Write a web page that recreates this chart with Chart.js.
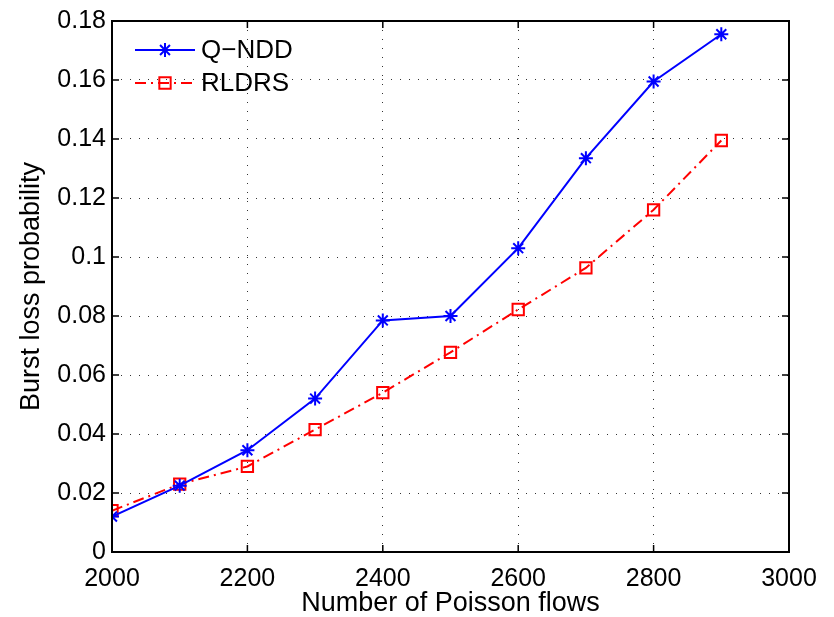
<!DOCTYPE html>
<html>
<head>
<meta charset="utf-8">
<script src="https://cdn.jsdelivr.net/npm/chart.js@4.4.0/dist/chart.umd.min.js"></script>
<style>
  html, body { margin: 0; padding: 0; background: #fff; }
  #wrap { width: 834px; height: 617px; }
</style>
</head>
<body>
<div id="wrap"><canvas id="myChart" width="834" height="617"></canvas></div>
<script>
// data
const flows = [2000, 2100, 2200, 2300, 2400, 2500, 2600, 2700, 2800, 2900];
const qndd = [0.012, 0.0225, 0.0345, 0.052, 0.0785, 0.080, 0.103, 0.1335, 0.1595, 0.1755];
const rldrs = [0.014, 0.023, 0.029, 0.0415, 0.054, 0.0677, 0.0822, 0.0963, 0.116, 0.1395];
const xTicks = [2000, 2200, 2400, 2600, 2800, 3000];
const yTicks = [0, 0.02, 0.04, 0.06, 0.08, 0.1, 0.12, 0.14, 0.16, 0.18];

const FONT = "'Liberation Sans', Arial, sans-serif";

function toPoints(vals) {
    return flows.map((f, i) => ({x: f, y: vals[i]}));
}

// frame, inward ticks and legend, matlab style
const matlabBox = {
    id: 'matlabBox',
    afterDraw(chart) {
        const {ctx, chartArea: a, scales} = chart;
        ctx.save();
        ctx.strokeStyle = '#000';
        ctx.lineWidth = 1.5;
        const len = 7;
        ctx.beginPath();
        xTicks.forEach(t => {
            const px = scales.x.getPixelForValue(t);
            ctx.moveTo(px, a.bottom); ctx.lineTo(px, a.bottom - len);
            ctx.moveTo(px, a.top); ctx.lineTo(px, a.top + len);
        });
        yTicks.forEach(t => {
            const py = scales.y.getPixelForValue(t);
            ctx.moveTo(a.left, py); ctx.lineTo(a.left + len, py);
            ctx.moveTo(a.right, py); ctx.lineTo(a.right - len, py);
        });
        ctx.stroke();
        ctx.lineWidth = 2;
        ctx.strokeRect(a.left, a.top, a.right - a.left, a.bottom - a.top);

        // legend
        const items = [
            {label: 'Q\u2212NDD', ds: chart.data.datasets[0]},
            {label: 'RLDRS', ds: chart.data.datasets[1]}
        ];
        const lx = a.left + 23, lw = 60;
        items.forEach((it, i) => {
            const ly = a.top + 29 + i * 33;
            ctx.strokeStyle = it.ds.borderColor;
            ctx.lineWidth = 2;
            ctx.setLineDash(it.ds.borderDash || []);
            ctx.beginPath();
            ctx.moveTo(lx, ly); ctx.lineTo(lx + lw, ly);
            ctx.stroke();
            ctx.setLineDash([]);
            ctx.fillStyle = 'rgba(0,0,0,0)';
            Chart.helpers.drawPoint(ctx, {
                pointStyle: it.ds.pointStyle,
                radius: it.ds.pointRadius,
                borderWidth: it.ds.pointBorderWidth,
                rotation: 0
            }, lx + lw / 2, ly);
            ctx.fillStyle = '#000';
            ctx.font = '26px ' + FONT;
            ctx.textBaseline = 'middle';
            ctx.fillText(it.label, lx + lw + 6, ly + 1);
        });
        ctx.restore();
    }
};

const data = {
    datasets: [{
        label: 'Q-NDD',
        data: toPoints(qndd),
        borderColor: '#0000ff',
        backgroundColor: '#0000ff',
        borderWidth: 2,
        pointStyle: 'star',
        pointRadius: 7,
        pointBorderWidth: 2,
        pointBorderColor: '#0000ff',
        tension: 0
    }, {
        label: 'RLDRS',
        data: toPoints(rldrs),
        borderColor: '#ff0000',
        backgroundColor: 'rgba(0,0,0,0)',
        borderWidth: 2,
        borderDash: [11, 5, 2, 5],
        pointStyle: 'rect',
        pointRadius: 8,
        pointBorderWidth: 2,
        pointBorderColor: '#ff0000',
        tension: 0
    }]
};

const config = {
    type: 'line',
    data,
    options: {
        responsive: false,
        animation: false,
        layout: {padding: {top: 20, right: 45, left: 0, bottom: 0}},
        plugins: {
            legend: {display: false},
            tooltip: {enabled: false}
        },
        scales: {
            x: {
                type: 'linear',
                min: 2000,
                max: 3000,
                afterBuildTicks: s => { s.ticks = xTicks.map(v => ({value: v})); },
                afterFit: s => { s.height = 65; },
                ticks: {
                    color: '#000',
                    font: {family: FONT, size: 25},
                    padding: 12,
                    maxRotation: 0,
                    callback: v => String(v)
                },
                grid: {
                    color: '#333',
                    lineWidth: 1,
                    drawTicks: false
                },
                border: {display: false, dash: [1, 8]},
                title: {
                    display: true,
                    text: 'Number of Poisson flows',
                    color: '#000',
                    font: {family: FONT, size: 27},
                    padding: {top: 0, bottom: -3}
                }
            },
            y: {
                min: 0,
                max: 0.18,
                afterBuildTicks: s => { s.ticks = yTicks.map(v => ({value: v})); },
                afterFit: s => { s.width = 112; },
                ticks: {
                    color: '#000',
                    font: {family: FONT, size: 25},
                    padding: 6,
                    callback: v => Number(v.toFixed(2)).toString()
                },
                grid: {
                    color: '#333',
                    lineWidth: 1,
                    drawTicks: false
                },
                border: {display: false, dash: [1, 8]},
                title: {
                    display: true,
                    text: 'Burst loss probability',
                    color: '#000',
                    font: {family: FONT, size: 27},
                    padding: {top: 15, bottom: 0}
                }
            }
        }
    },
    plugins: [matlabBox]
};

const myChart = new Chart(document.getElementById('myChart'), config);
</script>
</body>
</html>
